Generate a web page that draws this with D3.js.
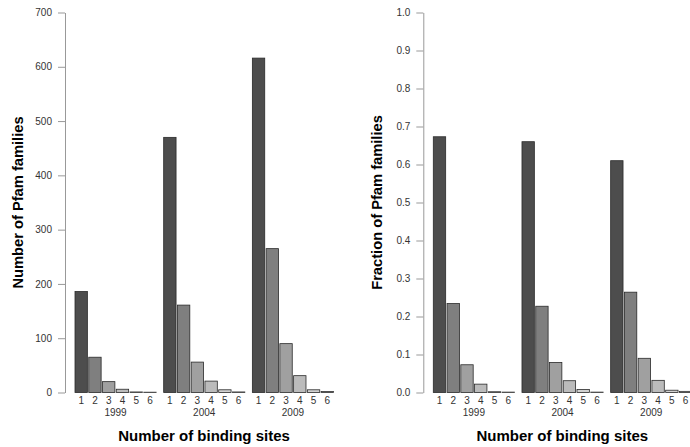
<!DOCTYPE html>
<html>
<head>
<meta charset="utf-8">
<script src="https://cdn.jsdelivr.net/npm/d3@7"></script>
<style>
  body { margin: 0; background: #fff; }
  svg { display: block; font-family: "Liberation Sans", Arial, sans-serif; }
  .axis path, .axis line { stroke: #999; }
  .axis text { fill: #333; font-size: 10px; }
</style>
</head>
<body>
<svg width="690" height="447"></svg>
<script>
var years = ["1999", "2004", "2009"];
var sites = ["1", "2", "3", "4", "5", "6"];

// number of Pfam families per number of binding sites
var counts1999 = [186, 65, 20, 6, 1, 0];
var counts2004 = [470, 161, 56, 21, 5, 1];
var counts2009 = [616, 265, 90, 31, 5, 2];

// fraction of Pfam families
var frac1999 = [0.673, 0.234, 0.073, 0.022, 0.002, 0.001];
var frac2004 = [0.660, 0.227, 0.079, 0.031, 0.008, 0.001];
var frac2009 = [0.610, 0.264, 0.090, 0.032, 0.006, 0.003];

var countTicks = [0, 100, 200, 300, 400, 500, 600, 700];
var fracTicks = [0, 0.1, 0.2, 0.3, 0.4, 0.5, 0.6, 0.7, 0.8, 0.9, 1.0];

var grays = ["#4d4d4d", "#7f7f7f", "#a0a0a0", "#bbbbbb", "#d1d1d1", "#e6e6e6"];

var svg = d3.select("svg");

function panel(opts) {
    var g = svg.append("g")
        .attr("transform", "translate(" + opts.left + ",0)");

    var y = d3.scaleLinear().domain(opts.domain).range([392.5, 12.5]);
    var x0 = d3.scaleBand().domain(years).range([10, 268.5]).paddingInner(0.085);
    var x1 = d3.scaleBand().domain(sites).range([0, x0.bandwidth()]).paddingInner(0.1);
    var z = d3.scaleOrdinal().domain(sites).range(grays);

    g.append("g")
        .attr("class", "axis")
        .call(d3.axisLeft(y).tickValues(opts.ticks).tickFormat(opts.format)
            .tickSize(7).tickPadding(6).tickSizeOuter(0))
        .select(".domain").attr("stroke", "#999");

    var group = g.selectAll(".grp")
        .data(years)
        .enter().append("g")
        .attr("class", "grp")
        .attr("transform", function(d) { return "translate(" + x0(d) + ",0)"; });

    // R draws the outline even for empty bars, so keep a hairline
    group.selectAll("rect")
        .data(function(d, i) {
            return opts.series[i].map(function(v, j) { return {key: sites[j], value: v}; });
        })
        .enter().append("rect")
        .attr("x", function(d) { return x1(d.key); })
        .attr("width", x1.bandwidth())
        .attr("y", function(d) { return Math.min(y(d.value), y(0) - 0.3); })
        .attr("height", function(d) { return Math.max(y(0) - y(d.value), 0.3); })
        .attr("fill", function(d) { return z(d.key); })
        .attr("stroke", "#2a2a2a")
        .attr("stroke-width", 0.8);

    group.selectAll(".site")
        .data(sites)
        .enter().append("text")
        .attr("class", "site")
        .attr("x", function(d) { return x1(d) + x1.bandwidth() / 2; })
        .attr("y", 403.5)
        .attr("text-anchor", "middle")
        .style("font-size", "10px")
        .style("fill", "#333")
        .text(function(d) { return d; });

    group.append("text")
        .attr("x", x0.bandwidth() / 2)
        .attr("y", 416)
        .attr("text-anchor", "middle")
        .style("font-size", "10px")
        .style("fill", "#333")
        .text(function(d) { return d; });

    g.append("text")
        .attr("x", 139)
        .attr("y", 441)
        .attr("text-anchor", "middle")
        .style("font-size", "15px")
        .style("font-weight", "bold")
        .text("Number of binding sites");

    g.append("text")
        .attr("transform", "rotate(-90)")
        .attr("x", -202.5)
        .attr("y", opts.titleX)
        .attr("text-anchor", "middle")
        .style("font-size", "14.7px")
        .style("font-weight", "bold")
        .text(opts.title);
}

panel({
    left: 65,
    domain: [0, 700],
    ticks: countTicks,
    format: d3.format("d"),
    series: [counts1999, counts2004, counts2009],
    title: "Number of Pfam families",
    titleX: -42
});

panel({
    left: 423.3,
    domain: [0, 1],
    ticks: fracTicks,
    format: d3.format(".1f"),
    series: [frac1999, frac2004, frac2009],
    title: "Fraction of Pfam families",
    titleX: -41
});
</script>
</body>
</html>
